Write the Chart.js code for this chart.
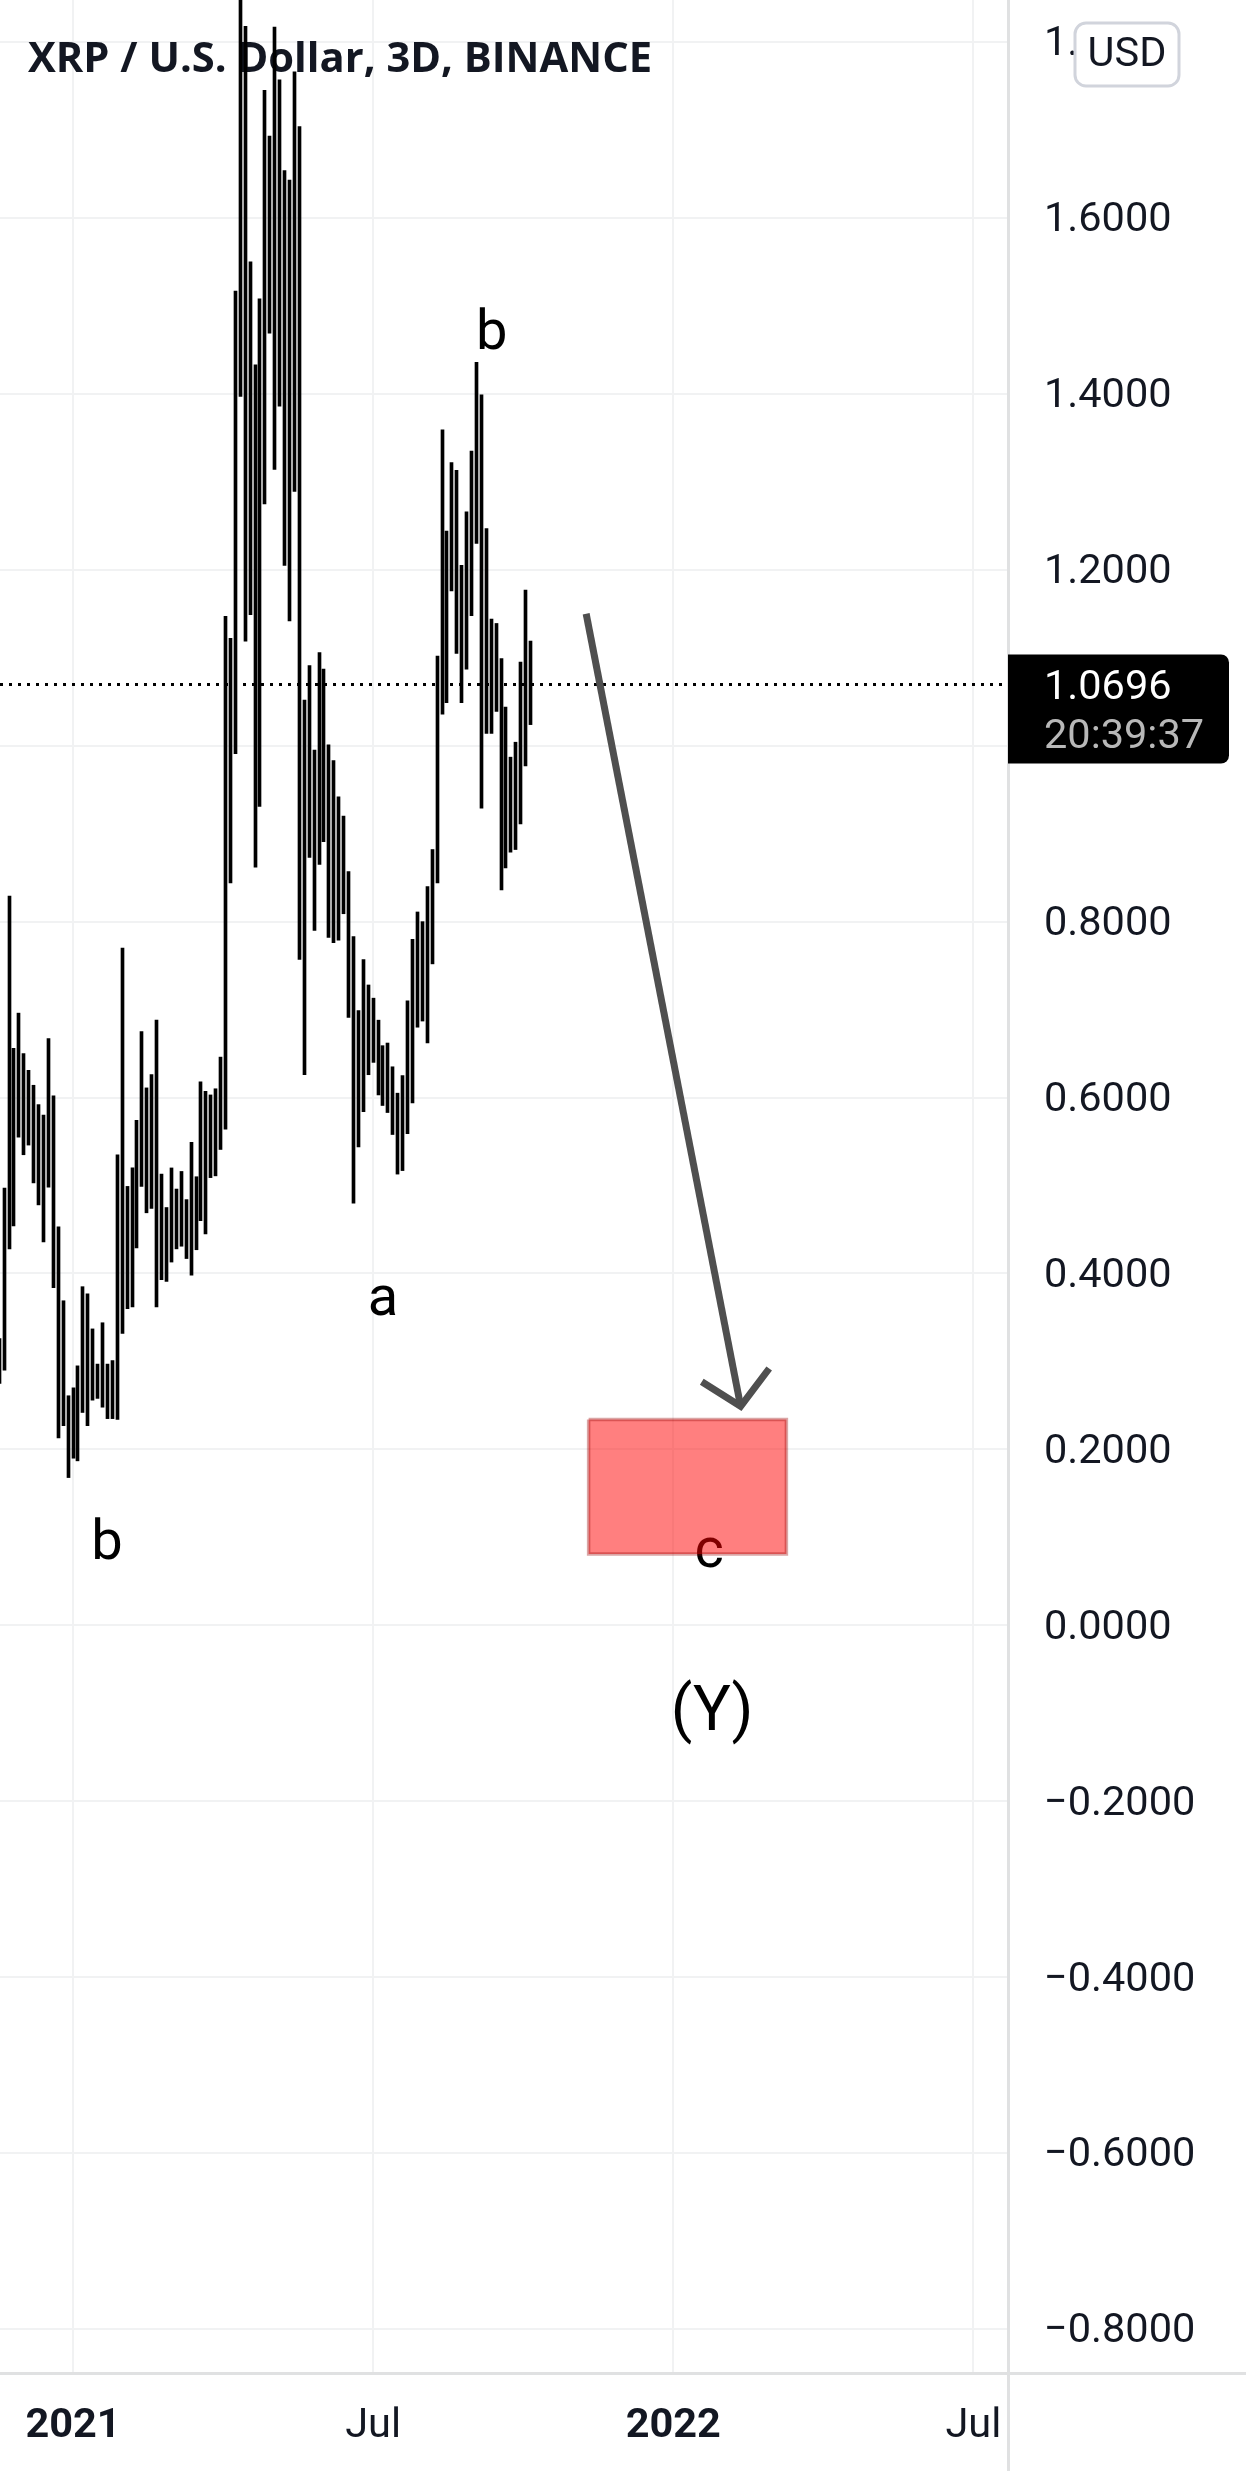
<!DOCTYPE html>
<html>
<head>
<meta charset="utf-8">
<title>XRP / U.S. Dollar, 3D, BINANCE</title>
<script src="https://cdn.jsdelivr.net/npm/chart.js@4"></script>
<style>
    html, body { margin: 0; padding: 0; background: #ffffff; overflow: hidden; }
    canvas { display: block; }
</style>
</head>
<body>
<canvas id="chart" width="1246" height="2471"></canvas>
<script>
// bar number 0 is the first bar of 2021, one bar = 3 days
const firstBar = -15;

const barHighs = [
    0.326, 0.497, 0.829, 0.656, 0.696, 0.650, 0.631, 0.614, 0.592, 0.580, 0.667, 0.602, 0.453, 0.369, 0.261, 0.270,
    0.295, 0.385, 0.377, 0.337, 0.297, 0.344, 0.297, 0.301, 0.535, 0.770, 0.499, 0.520, 0.574, 0.675, 0.611, 0.626,
    0.688, 0.513, 0.475, 0.520, 0.496, 0.516, 0.484, 0.549, 0.510, 0.618, 0.607, 0.603, 0.610, 0.646, 1.147, 1.122,
    1.517, 1.860, 1.818, 1.550, 1.433, 1.508, 1.745, 1.693, 1.817, 1.757, 1.654, 1.643, 1.766, 1.704, 1.052, 1.091,
    0.995, 1.106, 1.087, 1.001, 0.983, 0.942, 0.920, 0.857, 0.783, 0.699, 0.757, 0.728, 0.713, 0.688, 0.659, 0.662,
    0.635, 0.605, 0.625, 0.710, 0.780, 0.811, 0.800, 0.840, 0.882, 1.102, 1.359, 1.244, 1.322, 1.313, 1.205, 1.266,
    1.335, 1.436, 1.399, 1.247, 1.144, 1.139, 1.099, 1.044, 0.987, 1.004, 1.095, 1.177, 1.119
];

const barLows = [
    0.275, 0.290, 0.428, 0.454, 0.555, 0.535, 0.546, 0.503, 0.478, 0.436, 0.498, 0.384, 0.213, 0.227, 0.168, 0.190,
    0.187, 0.242, 0.227, 0.256, 0.258, 0.248, 0.235, 0.235, 0.234, 0.332, 0.360, 0.362, 0.429, 0.499, 0.469, 0.474,
    0.362, 0.393, 0.391, 0.413, 0.428, 0.431, 0.417, 0.398, 0.427, 0.460, 0.445, 0.509, 0.511, 0.541, 0.564, 0.844,
    0.991, 1.397, 1.119, 1.149, 0.862, 0.931, 1.275, 1.469, 1.314, 1.386, 1.205, 1.142, 1.289, 0.757, 0.626, 0.873,
    0.790, 0.865, 0.891, 0.782, 0.776, 0.779, 0.809, 0.691, 0.480, 0.544, 0.584, 0.626, 0.640, 0.603, 0.591, 0.583,
    0.558, 0.513, 0.517, 0.559, 0.594, 0.680, 0.687, 0.662, 0.752, 0.844, 1.036, 1.049, 1.176, 1.105, 1.049, 1.087,
    1.148, 1.230, 0.929, 1.014, 1.014, 1.039, 0.836, 0.861, 0.879, 0.882, 0.911, 0.977, 1.024
];

const timeTicks = [0, 61, 122, 183];
const timeLabels = ["2021", "Jul", "2022", "Jul"];
const yearLabels = ["2021", "2022"];

const priceTicks = [1.8, 1.6, 1.4, 1.2, 1.0, 0.8, 0.6, 0.4, 0.2, 0, -0.2, -0.4, -0.6, -0.8];
const priceLabels = ["1.8000", "1.6000", "1.4000", "1.2000", "1.0000", "0.8000", "0.6000", "0.4000", "0.2000", "0.0000", "\u22120.2000", "\u22120.4000", "\u22120.6000", "\u22120.8000"];

const lastPrice = 1.0696;
const lastPriceText = "1.0696";
const countdownText = "20:39:37";
const titleText = "XRP / U.S. Dollar, 3D, BINANCE";
const currencyText = "USD";

// drawn forecast, in bar numbers and prices
const arrowBars = [104.3, 135.7];
const arrowPrices = [1.150, 0.249];
const arrowHeadBars = [127.8, 135.7, 141.5];
const arrowHeadPrices = [0.277, 0.249, 0.292];
const zoneBars = [104.8, 145.0];
const zonePrices = [0.234, 0.081];

const noteTexts = ["a", "b", "a", "b", "c", "(Y)"];
const noteBars = [-17.7, 6.9, 63, 85.1, 129.3, 129.9];
const notePrices = [0.862, 0.075, 0.353, 1.451, 0.066, -0.119];

const FONT = "Roboto";
const TEXT_COLOR = "#131722";
const GRID_COLOR = "#f1f2f3";
const FRAME_COLOR = "#e0e1e2";

Chart.defaults.font.family = FONT;
Chart.defaults.color = TEXT_COLOR;

function toPoints(xs, ys) {
    return xs.map((x, i) => ({ x: x, y: ys[i] }));
}

let bars = barHighs.map((high, i) => ({ x: firstBar + i, y: [barLows[i], high] }));

let zonePoints = toPoints(
    [zoneBars[0], zoneBars[1], zoneBars[1], zoneBars[0], zoneBars[0]],
    [zonePrices[0], zonePrices[0], zonePrices[1], zonePrices[1], zonePrices[0]]
);

// keep bars on whole pixels, the reference has no soft edges
const snapBars = {
    id: "snapBars",
    beforeDatasetsDraw(chart) {
        chart.getDatasetMeta(4).data.forEach(el => {
            el.x = Math.floor(el.x) + 0.5;
        });
    }
};

// price labels sit a little under their grid lines
const nudgePriceLabels = {
    id: "nudgePriceLabels",
    beforeDraw(chart) {
        chart.scales.y.getLabelItems().forEach(item => {
            item.textOffset = 3;
        });
    }
};

// title and wave labels sit under the marks
const notes = {
    id: "notes",
    beforeDatasetsDraw(chart) {
        let ctx = chart.ctx;
        let sx = chart.scales.x;
        let sy = chart.scales.y;
        ctx.save();
        ctx.textBaseline = "alphabetic";
        ctx.textAlign = "left";
        ctx.fillStyle = TEXT_COLOR;
        ctx.font = '700 41.7px "Open Sans"';
        ctx.fillText(titleText, 28, 72);

        ctx.fillStyle = "#000000";
        ctx.textAlign = "center";
        noteTexts.forEach((text, i) => {
            ctx.font = (text === "(Y)" ? "63px " : "56px ") + FONT;
            ctx.fillText(text, sx.getPixelForValue(noteBars[i]), sy.getPixelForValue(notePrices[i]));
        });
        ctx.restore();
    }
};

// axis frame, price tag and currency button
const overlay = {
    id: "overlay",
    afterDraw(chart) {
        let ctx = chart.ctx;
        let area = chart.chartArea;
        let tagY = chart.scales.y.getPixelForValue(lastPrice);
        ctx.save();

        ctx.fillStyle = FRAME_COLOR;
        ctx.fillRect(area.right - 1, 0, 3, chart.height);
        ctx.fillRect(0, area.bottom - 1, chart.width, 3);

        ctx.fillStyle = "#000000";
        ctx.beginPath();
        ctx.roundRect(area.right, tagY - 30, 221, 109, [0, 8, 8, 0]);
        ctx.fill();
        ctx.textAlign = "left";
        ctx.textBaseline = "middle";
        ctx.font = "41.5px " + FONT;
        ctx.fillStyle = "#ffffff";
        ctx.fillText(lastPriceText, area.right + 36, tagY + 4);
        ctx.fillStyle = "#b8b8b8";
        ctx.fillText(countdownText, area.right + 36, tagY + 53);

        ctx.beginPath();
        ctx.roundRect(1075, 23, 104, 63, 11);
        ctx.fillStyle = "#ffffff";
        ctx.fill();
        ctx.lineWidth = 3;
        ctx.strokeStyle = "#d1d4dc";
        ctx.stroke();
        ctx.fillStyle = TEXT_COLOR;
        ctx.textAlign = "center";
        ctx.fillText(currencyText, 1127, 56);
        ctx.restore();
    }
};

new Chart(document.getElementById("chart").getContext("2d"), {
    type: "bar",
    data: {
        datasets: [
            {
                type: "line",
                data: zonePoints,
                fill: "shape",
                backgroundColor: "rgba(255, 0, 0, 0.5)",
                borderColor: "rgba(150, 0, 0, 0.35)",
                borderWidth: 3.5,
                pointRadius: 0,
                tension: 0,
                order: 1
            },
            {
                type: "line",
                data: toPoints(arrowBars, arrowPrices),
                borderColor: "#4f4f4f",
                borderWidth: 7,
                pointRadius: 0,
                tension: 0,
                order: 2
            },
            {
                type: "line",
                data: toPoints(arrowHeadBars, arrowHeadPrices),
                borderColor: "#4f4f4f",
                borderWidth: 7,
                pointRadius: 0,
                tension: 0,
                order: 3
            },
            {
                type: "line",
                data: toPoints([-14.84, 190.04], [lastPrice, lastPrice]),
                borderColor: "#000000",
                borderWidth: 3,
                borderDash: [3, 6],
                pointRadius: 0,
                tension: 0,
                order: 5
            },
            {
                data: bars,
                backgroundColor: "#000000",
                borderWidth: 0,
                barThickness: 3,
                order: 4
            }
        ]
    },
    options: {
        responsive: false,
        animation: false,
        devicePixelRatio: 1,
        events: [],
        layout: { padding: 0 },
        plugins: {
            legend: { display: false },
            tooltip: { enabled: false }
        },
        scales: {
            x: {
                type: "linear",
                offset: false,
                min: -14.84,
                max: 190.04,
                afterFit(scale) {
                    scale.height = 98;
                    scale.paddingLeft = 0;
                    scale.paddingRight = 0;
                },
                afterBuildTicks(scale) { scale.ticks = timeTicks.map(v => ({ value: v })); },
                border: { display: false },
                grid: { color: GRID_COLOR, lineWidth: 2, drawTicks: false, offset: false },
                ticks: {
                    autoSkip: false,
                    maxRotation: 0,
                    padding: 29,
                    color: TEXT_COLOR,
                    font: ctx => ({
                        size: 41.5,
                        weight: yearLabels.includes(timeLabels[ctx.index]) ? "700" : "400"
                    }),
                    callback: (value, i) => timeLabels[i]
                }
            },
            y: {
                position: "right",
                min: -0.85,
                max: 1.8478,
                afterFit(scale) {
                    scale.width = 238;
                    scale.paddingTop = 0;
                    scale.paddingBottom = 0;
                },
                afterBuildTicks(scale) { scale.ticks = priceTicks.map(v => ({ value: v })); },
                border: { display: false },
                grid: { color: GRID_COLOR, lineWidth: 2, drawTicks: false },
                ticks: {
                    autoSkip: false,
                    padding: 36,
                    color: TEXT_COLOR,
                    font: { size: 41.5 },
                    callback: (value, i) => priceLabels[i]
                }
            }
        }
    },
    plugins: [snapBars, nudgePriceLabels, notes, overlay]
});
</script>
</body>
</html>
